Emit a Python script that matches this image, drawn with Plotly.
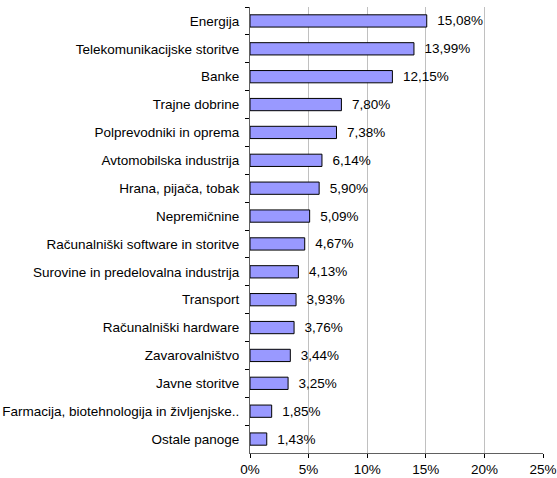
import plotly.graph_objects as go

categories = [
    "Energija",
    "Telekomunikacijske storitve",
    "Banke",
    "Trajne dobrine",
    "Polprevodniki in oprema",
    "Avtomobilska industrija",
    "Hrana, pijača, tobak",
    "Nepremičnine",
    "Računalniški software in storitve",
    "Surovine in predelovalna industrija",
    "Transport",
    "Računalniški hardware",
    "Zavarovalništvo",
    "Javne storitve",
    "Farmacija, biotehnologija in življenjske..",
    "Ostale panoge",
]
values = [15.08, 13.99, 12.15, 7.80, 7.38, 6.14, 5.90, 5.09, 4.67, 4.13, 3.93, 3.76, 3.44, 3.25, 1.85, 1.43]
labels = ["  " + f"{v:.2f}%".replace(".", ",") for v in values]
tick_vals = [0, 5, 10, 15, 20, 25]
tick_text = [f"{t}%" for t in tick_vals]

FONT = "Liberation Sans, Arial"
FS = 13.5

fig = go.Figure(go.Bar(
    x=values,
    y=categories,
    orientation="h",
    marker=dict(color="#9999FF", line=dict(color="#000000", width=1)),
    text=labels,
    textposition="outside",
    constraintext="none",
    textfont=dict(family=FONT, size=FS, color="#000000"),
    cliponaxis=False,
    width=0.44,
    hoverinfo="skip",
))

fig.update_layout(
    width=557, height=478,
    margin=dict(l=250, r=14, t=7, b=25),
    paper_bgcolor="white", plot_bgcolor="white",
    font=dict(family=FONT, size=FS, color="#000000"),
    showlegend=False,
    xaxis=dict(
        range=[0, 25], tickvals=tick_vals, ticktext=tick_text,
        showgrid=True, gridcolor="#C0C0C0", gridwidth=1,
        showline=True, linecolor="#606060", linewidth=1,
        ticks="outside", ticklen=4, tickcolor="#000000",
        zeroline=False, fixedrange=True, automargin=False,
    ),
    yaxis=dict(
        autorange="reversed", type="category",
        showline=True, linecolor="#606060", linewidth=1,
        ticks="outside", ticklen=4, tickcolor="#000000",
        tickson="boundaries", showgrid=False,
        ticklabelstandoff=7, automargin=False, fixedrange=True,
    ),
)

fig.write_html(
    "out.html",
    config={"displayModeBar": False, "staticPlot": True},
    post_script="document.body.style.margin='0px';",
)
